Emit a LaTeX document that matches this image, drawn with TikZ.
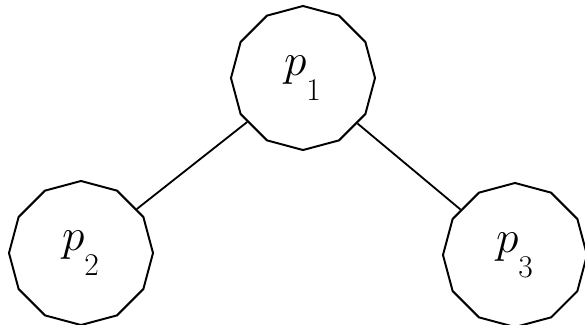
\documentclass[tikz,border=0pt]{standalone}
\usepackage{amsmath}
\usepackage{tikz}
\usetikzlibrary{shapes.geometric}

% process label with a low subscript
\newcommand{\procname}[1]{\scalebox{1.3}{$p_{\raisebox{-0.4em}{$\scriptscriptstyle #1$}}$}}

\begin{document}
\begin{tikzpicture}[
    x=0.025cm, y=-0.025cm,
    proc/.style={regular polygon, regular polygon sides=12, shape border rotate=15,
                 draw, line width=1.4pt, minimum size=3.6cm, inner sep=0pt,
                 font=\fontsize{24.88}{30}\selectfont},
    link/.style={line width=1.3pt}
  ]
  \useasboundingbox (0,0) rectangle (585,324);

  %% Processes
  \node[proc] (p1) at (303, 78) {\procname{1}};
  \node[proc] (p2) at (81, 253) {\procname{2}};
  \node[proc] (p3) at (515, 255) {\procname{3}};

  %% Links
  \draw[link] (p1) -- (p2);
  \draw[link] (p1) -- (p3);

\end{tikzpicture}
\end{document}
